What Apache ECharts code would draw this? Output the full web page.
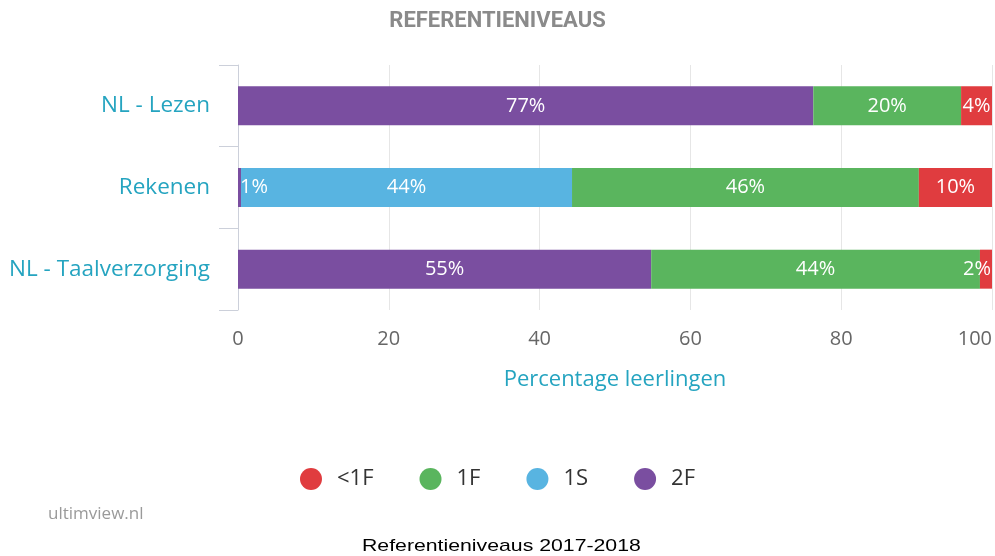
<!DOCTYPE html>
<html>
<head>
<meta charset="utf-8">
<script src="https://cdn.jsdelivr.net/npm/echarts@6/dist/echarts.min.js"></script>
<style>html,body{margin:0;padding:0;background:#fff;}#c{width:995px;height:556px;}</style>
</head>
<body>
<div id="c"></div>
<script>
var categories = ['NL - Lezen', 'Rekenen', 'NL - Taalverzorging'];
var seriesNames = ['2F', '1S', '1F', '<1F'];
var v2F = [76.3, 0.4, 54.8];
var v1S = [0, 43.9, 0];
var v1F = [19.6, 46.0, 43.6];
var vLt1F = [4.1, 9.7, 1.6];
var lbl2F = ['77%', '1%', '55%'];
var lbl1S = ['', '44%', ''];
var lbl1F = ['20%', '46%', '44%'];
var lblLt1F = ['4%', '10%', '2%'];
var xTicks = [0, 20, 40, 60, 80, 100];
var legendOrder = ['<1F', '1F', '1S', '2F'];

var colors = {'2F': '#7a4ea0', '1S': '#58b4e1', '1F': '#5ab55e', '<1F': '#e03c3f'};
var font = 'Open Sans';

function mk(name, vals, lbls, special) {
  return {
    name: name, type: 'bar', stack: 'all', barWidth: 39,
    itemStyle: {color: colors[name]},
    data: vals.map(function (v, i) {
      var d = {value: v, labelText: lbls[i]};
      if (special && special[i]) d.label = special[i];
      return d;
    }),
    label: {
      show: true, position: 'inside', color: '#fff', fontFamily: font, fontSize: 20,
      formatter: function (p) { return p.data.labelText; }
    }
  };
}

var chart = echarts.init(document.getElementById('c'), null, {renderer: 'canvas'});
chart.setOption({
  animation: false,
  title: {text: 'REFERENTIENIVEAUS', left: 'center', top: 5,
    textStyle: {color: '#8a8a8a', fontSize: 22, fontWeight: 'bold', fontFamily: 'Roboto'}},
  legend: {data: legendOrder, top: 463, left: 'center', icon: 'circle', itemWidth: 22, itemHeight: 22, itemGap: 46,
    textStyle: {color: '#333', fontSize: 22, fontFamily: font, padding: [0, 0, 0, 10]}},
  grid: {left: 238, right: 3, top: 65, bottom: 246},
  xAxis: {type: 'value', min: 0, max: 100, interval: 20,
    name: 'Percentage leerlingen', nameLocation: 'middle', nameGap: 59,
    nameTextStyle: {color: '#25a4c0', fontSize: 22, fontFamily: font},
    axisLine: {show: false}, axisTick: {show: false},
    axisLabel: {color: '#666', fontSize: 20, fontFamily: font, margin: 19, alignMaxLabel: 'right',
      formatter: function (v) { return xTicks.indexOf(v) >= 0 ? String(v) : ''; }},
    splitLine: {lineStyle: {color: '#e6e6e6'}}},
  yAxis: {type: 'category', data: categories, inverse: true,
    axisLine: {show: true, lineStyle: {color: '#ccd0da'}},
    axisTick: {show: true, length: 19, lineStyle: {color: '#ccd0da'}},
    axisLabel: {color: '#25a4c0', fontSize: 22.5, fontFamily: font, margin: 28}},
  series: [
    mk('2F', v2F, lbl2F, {1: {position: 'insideLeft', distance: 2}}),
    mk('1S', v1S, lbl1S),
    mk('1F', v1F, lbl1F),
    mk('<1F', vLt1F, lblLt1F, {2: {position: 'insideRight', distance: 1}})
  ],
  graphic: [
    {type: 'text', left: 48, top: 506, style: {text: 'ultimview.nl', fill: '#9a9a9a', fontSize: 17, fontFamily: font}},
    {type: 'text', x: 362, y: 538, scaleX: 1.25, style: {text: 'Referentieniveaus 2017-2018', fill: '#000', fontSize: 17, fontFamily: 'Liberation Sans'}}
  ]
});
</script>
</body>
</html>
